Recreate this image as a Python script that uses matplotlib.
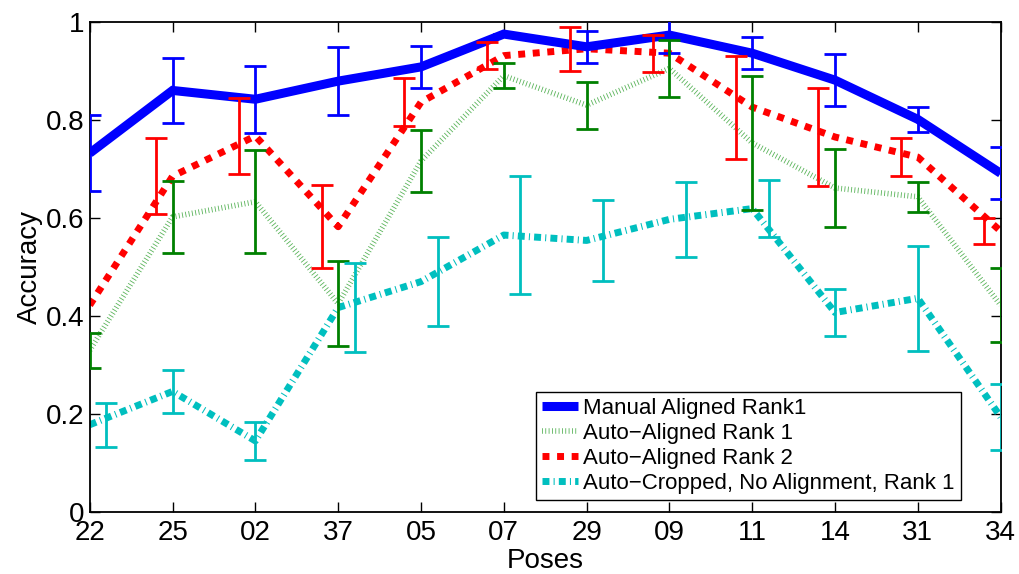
import numpy as np
import matplotlib
matplotlib.use('Agg')
import matplotlib.pyplot as plt

poses = ['22', '25', '02', '37', '05', '07', '29', '09', '11', '14', '31', '34']

manual_r1 = [0.732, 0.860, 0.842, 0.879, 0.908, 0.975, 0.949, 0.973, 0.936, 0.881, 0.801, 0.691]
manual_r1_err = [0.077, 0.067, 0.068, 0.070, 0.043, 0.0, 0.033, 0.036, 0.033, 0.053, 0.025, 0.053]

auto_r1 = [0.330, 0.602, 0.633, 0.425, 0.716, 0.890, 0.830, 0.905, 0.753, 0.661, 0.643, 0.422]
auto_r1_err = [0.036, 0.074, 0.105, 0.087, 0.064, 0.025, 0.048, 0.058, 0.136, 0.079, 0.031, 0.075]

auto_r2 = [0.422, 0.685, 0.767, 0.582, 0.836, 0.931, 0.945, 0.936, 0.826, 0.765, 0.724, 0.573]
auto_r2_err = [0.05, 0.077, 0.077, 0.085, 0.049, 0.027, 0.045, 0.038, 0.105, 0.099, 0.038, 0.027]

cropped = [0.178, 0.246, 0.145, 0.417, 0.470, 0.565, 0.554, 0.597, 0.619, 0.407, 0.436, 0.194]
cropped_err = [0.045, 0.044, 0.038, 0.090, 0.090, 0.120, 0.082, 0.076, 0.059, 0.047, 0.107, 0.068]

# horizontal shift of the error bars (in pose index units)
auto_r2_shift = [-0.2] * 12
cropped_shift = [0.2, 0, 0, 0.2, 0.2, 0.2, 0.2, 0.2, 0.2, 0, 0, 0]

plt.rcParams['font.family'] = ['Liberation Sans', 'DejaVu Sans']

x = np.arange(len(poses))
fig = plt.figure(figsize=(10.2, 5.74), dpi=100)
ax = fig.add_axes([0.088, 0.108, 0.893, 0.854])

blue = (0, 0, 1)
red = (1, 0, 0)
green = (0, 0.5, 0)
lgreen = (0.35, 0.7, 0.35)
cyan = (0, 0.75, 0.75)

l1, = ax.plot(x, manual_r1, color=blue, lw=6.5, solid_capstyle='butt',
              solid_joinstyle='miter', label='Manual Aligned Rank1', zorder=3)
l2, = ax.plot(x, auto_r1, color=lgreen, lw=4, linestyle=(0, (0.15, 0.45)),
              dash_capstyle='butt', label='Auto\u2212Aligned Rank 1', zorder=2)
l3, = ax.plot(x, auto_r2, color=red, lw=5, linestyle=(0, (1, 1.1)),
              dash_capstyle='butt', label='Auto\u2212Aligned Rank 2', zorder=2)
l4, = ax.plot(x, cropped, color=cyan, lw=5, linestyle=(0, (1, 0.6, 0.15, 0.6)),
              dash_capstyle='butt', label='Auto\u2212Cropped, No Alignment, Rank 1', zorder=2)

ebkw = dict(fmt='none', elinewidth=2, capsize=8, capthick=2, zorder=4)
ax.errorbar(x, manual_r1, yerr=manual_r1_err, ecolor=blue, **ebkw)
ax.errorbar(x, auto_r1, yerr=auto_r1_err, ecolor=green, **ebkw)
ax.errorbar(x + np.array(auto_r2_shift), auto_r2, yerr=auto_r2_err, ecolor=red, **ebkw)
ax.errorbar(x + np.array(cropped_shift), cropped, yerr=cropped_err, ecolor=cyan, **ebkw)

ax.set_xlim(0, len(poses) - 1)
ax.set_ylim(0, 1)
ax.set_xticks(x)
ax.set_xticklabels(poses)
ax.set_yticks([0, 0.2, 0.4, 0.6, 0.8, 1])
ax.set_yticklabels(['0', '0.2', '0.4', '0.6', '0.8', '1'])
ax.tick_params(direction='in', length=7, width=1, labelsize=20, top=True, right=True, pad=4)
ax.tick_params(axis='x', pad=6)
for s in ax.spines.values():
    s.set_linewidth(1.3)

ax.set_xlabel('Poses', fontsize=20, labelpad=1)
ax.set_ylabel('Accuracy', fontsize=20, labelpad=2)

leg = ax.legend(handles=[l1, l2, l3, l4], loc='lower right', bbox_to_anchor=(0.957, 0.024),
                fontsize=16, handlelength=1.6, handletextpad=0.25, labelspacing=0.17,
                borderpad=0.3, borderaxespad=0, fancybox=False, framealpha=1)
leg.get_frame().set_edgecolor('black')
leg.get_frame().set_linewidth(1.0)

plt.savefig('out.png', dpi=100)
